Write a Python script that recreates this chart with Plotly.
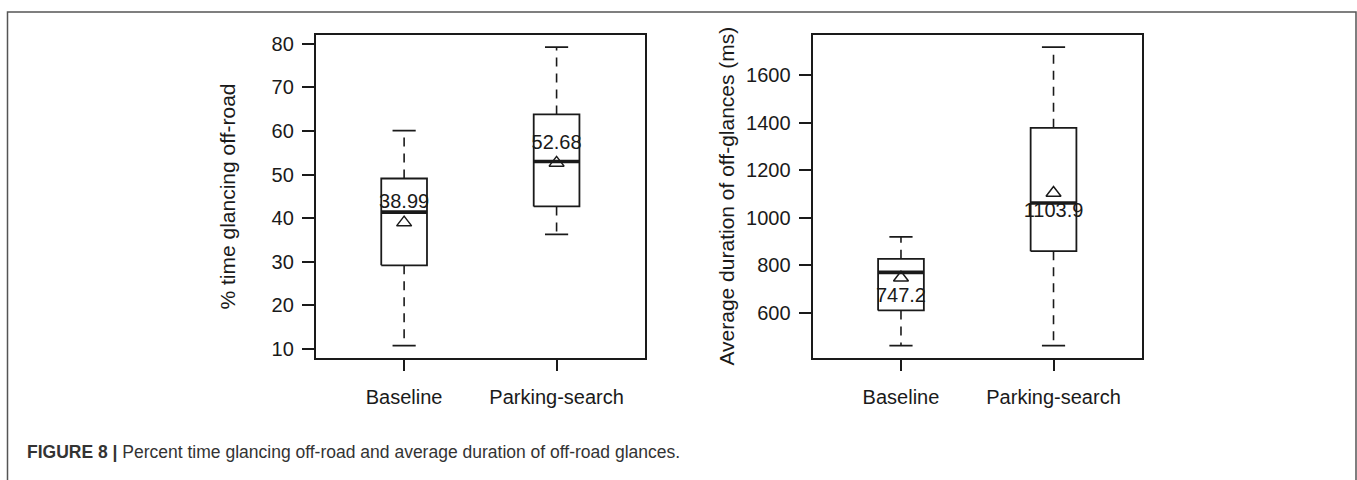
import plotly.graph_objects as go

W, H = 1357, 480

# ---------------- data ----------------
categories = ["Baseline", "Parking-search"]

pct_lower = [10.8, 36.3]
pct_q1 = [29.2, 42.7]
pct_median = [41.4, 53.0]
pct_q3 = [49.1, 63.8]
pct_upper = [60.1, 79.2]
pct_mean = [38.99, 52.68]
pct_ticks = [10, 20, 30, 40, 50, 60, 70, 80]

dur_lower = [462, 462]
dur_q1 = [610, 859]
dur_median = [770, 1062]
dur_q3 = [827, 1378]
dur_upper = [919, 1717]
dur_mean = [747.2, 1103.9]
dur_ticks = [600, 800, 1000, 1200, 1400, 1600]

# ---------------- style ----------------
FONT = "Liberation Sans, Arial, Helvetica, sans-serif"
INK = "#1a1a1a"
BOX_HALF = 0.15
STAPLE_HALF = 0.076
FS = 20


def px_x(p):
    return p / W


def px_y(p):
    return (H - p) / H


def join(segs):
    xs, ys = [], []
    for sx, sy in segs:
        xs += sx + [None]
        ys += sy + [None]
    return xs, ys


def add_panel(fig, xa, ya, lower, q1, med, q3, upper, mean, label_pos):
    pos = [i + 1 for i in range(len(categories))]
    # boxes
    bx, by = join([([p - BOX_HALF, p + BOX_HALF, p + BOX_HALF, p - BOX_HALF, p - BOX_HALF],
                    [a, a, b, b, a]) for p, a, b in zip(pos, q1, q3)])
    fig.add_trace(go.Scatter(x=bx, y=by, mode="lines", xaxis=xa, yaxis=ya,
                             line=dict(color=INK, width=1.8), hoverinfo="skip", showlegend=False))
    # whiskers (dashed)
    wx, wy = join([([p, p], [a, b]) for p, a, b in zip(pos, q3, upper)] +
                  [([p, p], [a, b]) for p, a, b in zip(pos, q1, lower)])
    fig.add_trace(go.Scatter(x=wx, y=wy, mode="lines", xaxis=xa, yaxis=ya,
                             line=dict(color=INK, width=1.6, dash="9px,7px"),
                             hoverinfo="skip", showlegend=False))
    # staples
    sx, sy = join([([p - STAPLE_HALF, p + STAPLE_HALF], [v, v]) for p, v in zip(pos, upper)] +
                  [([p - STAPLE_HALF, p + STAPLE_HALF], [v, v]) for p, v in zip(pos, lower)])
    fig.add_trace(go.Scatter(x=sx, y=sy, mode="lines", xaxis=xa, yaxis=ya,
                             line=dict(color=INK, width=1.8), hoverinfo="skip", showlegend=False))
    # medians
    mx, my = join([([p - BOX_HALF, p + BOX_HALF], [m, m]) for p, m in zip(pos, med)])
    fig.add_trace(go.Scatter(x=mx, y=my, mode="lines", xaxis=xa, yaxis=ya,
                             line=dict(color=INK, width=3.6), hoverinfo="skip", showlegend=False))
    # means with labels
    fig.add_trace(go.Scatter(x=pos, y=mean, mode="markers+text", xaxis=xa, yaxis=ya,
                             marker=dict(symbol="triangle-up-open", size=13,
                                         color=INK, line=dict(color=INK, width=1.5)),
                             text=[f"{m:g}" for m in mean], textposition=label_pos,
                             textfont=dict(family=FONT, size=FS, color=INK),
                             hoverinfo="skip", showlegend=False))


def yrange(lo, hi):
    r = max(hi) - min(lo)
    return [min(lo) - 0.04 * r, max(hi) + 0.04 * r]


fig = go.Figure()
add_panel(fig, "x", "y", pct_lower, pct_q1, pct_median, pct_q3, pct_upper, pct_mean, "top center")
add_panel(fig, "x2", "y2", dur_lower, dur_q1, dur_median, dur_q3, dur_upper, dur_mean, "bottom center")

axis_common = dict(showline=True, linecolor=INK, linewidth=1.8, mirror=True,
                   ticks="outside", ticklen=12, tickwidth=1.8, tickcolor=INK,
                   showgrid=False, zeroline=False,
                   tickfont=dict(family=FONT, size=FS, color=INK))

ydom = [px_y(359), px_y(32.7)]
xr = [0.42, len(categories) + 0.58]
tickpos = [i + 1 for i in range(len(categories))]

fig.update_layout(
    width=W, height=H,
    margin=dict(l=0, r=0, t=0, b=0),
    paper_bgcolor="white", plot_bgcolor="white",
    showlegend=False,
    xaxis=dict(domain=[px_x(315.7), px_x(645)], range=xr, tickvals=tickpos,
               ticktext=categories, anchor="y", ticklabelstandoff=9, **axis_common),
    yaxis=dict(domain=ydom, range=yrange(pct_lower, pct_upper), tickvals=pct_ticks,
               anchor="x", ticklabelstandoff=4, **axis_common),
    xaxis2=dict(domain=[px_x(812.5), px_x(1142)], range=xr, tickvals=tickpos,
                ticktext=categories, anchor="y2", ticklabelstandoff=9, **axis_common),
    yaxis2=dict(domain=ydom, range=yrange(dur_lower, dur_upper), tickvals=dur_ticks,
                anchor="x2", ticklabelstandoff=4, **axis_common),
    shapes=[dict(type="rect", xref="paper", yref="paper",
                 x0=px_x(7.5), x1=px_x(1356), y0=-0.1, y1=px_y(9),
                 line=dict(color="#555555", width=1.5), fillcolor="rgba(0,0,0,0)", layer="below")],
    annotations=[
        dict(text="% time glancing off-road", xref="paper", yref="paper",
             x=px_x(228), y=px_y(196), textangle=-90, showarrow=False,
             xanchor="center", yanchor="middle",
             font=dict(family=FONT, size=21, color=INK)),
        dict(text="Average duration of off-glances (ms)", xref="paper", yref="paper",
             x=px_x(727), y=px_y(196), textangle=-90, showarrow=False,
             xanchor="center", yanchor="middle",
             font=dict(family=FONT, size=21, color=INK)),
        dict(text="<b>FIGURE 8 |</b> Percent time glancing off-road and average duration of off-road glances.",
             xref="paper", yref="paper", x=px_x(25), y=px_y(455),
             xanchor="left", yanchor="middle", showarrow=False,
             font=dict(family=FONT, size=17.5, color="#333333")),
    ],
)

fig.write_html("out.html")
